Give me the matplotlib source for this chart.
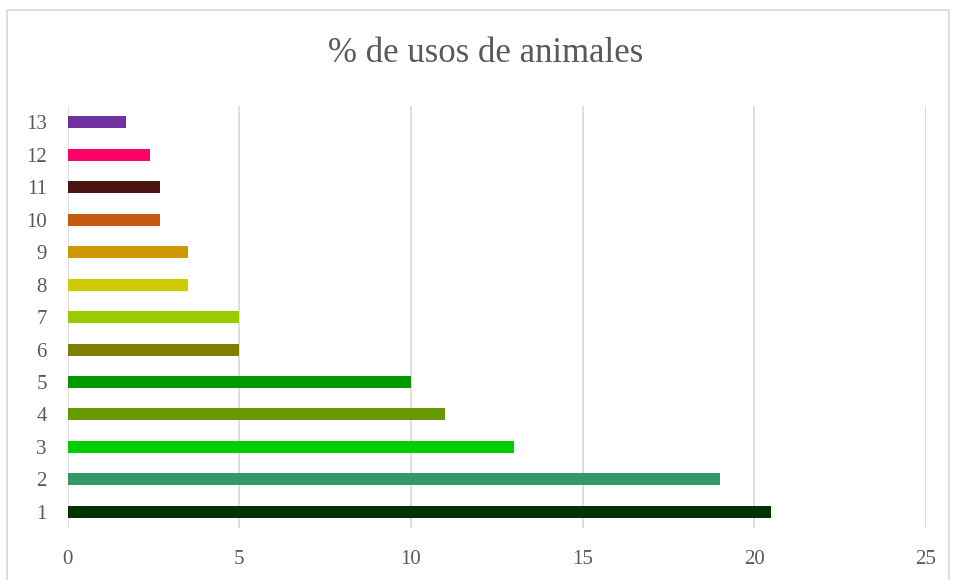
import matplotlib
matplotlib.use("Agg")
import matplotlib.pyplot as plt
from matplotlib.patches import Rectangle

# datos del gráfico
categorias = ["1", "2", "3", "4", "5", "6", "7", "8", "9", "10", "11", "12", "13"]
valores = [20.5, 19, 13, 11, 10, 5, 5, 3.5, 3.5, 2.7, 2.7, 2.4, 1.7]
colores = ["#003300", "#339966", "#00CC00", "#669900", "#009900", "#808000",
           "#99CC00", "#CCCC00", "#CC9900", "#C55A11", "#4A1410", "#FF0066",
           "#7030A0"]
ticks_x = [0, 5, 10, 15, 20, 25]

plt.rcParams['font.family'] = ['Liberation Serif', 'DejaVu Serif']
gris = "#595959"

fig = plt.figure(figsize=(9.54, 5.8), dpi=100)
ax = fig.add_axes([0.0708, 0.0897, 0.8998, 0.7273])

pos = list(range(1, len(categorias) + 1))
ax.barh(pos, valores, height=0.37, color=colores, zorder=3)

ax.set_xlim(0, 25)
ax.set_ylim(0.5, 13.5)
ax.set_xticks(ticks_x)
ax.set_yticks(pos)
ax.set_yticklabels(categorias)
ax.grid(axis='x', color="#d9d9d9", linewidth=1.2, zorder=0)
for s in ax.spines.values():
    s.set_visible(False)
ax.tick_params(axis='both', length=0, labelsize=15, labelcolor=gris)
ax.tick_params(axis='x', pad=16)
ax.tick_params(axis='y', pad=15)

fig.text(0.509, 0.908, "% de usos de animales", ha='center', va='center',
         fontsize=25, color=gris)

fig.patches.append(Rectangle((0.0073, -0.01), 0.987, 0.993, transform=fig.transFigure,
                             fill=False, edgecolor="#d9d9d9", linewidth=1.2))

fig.savefig("out.png", dpi=100)
